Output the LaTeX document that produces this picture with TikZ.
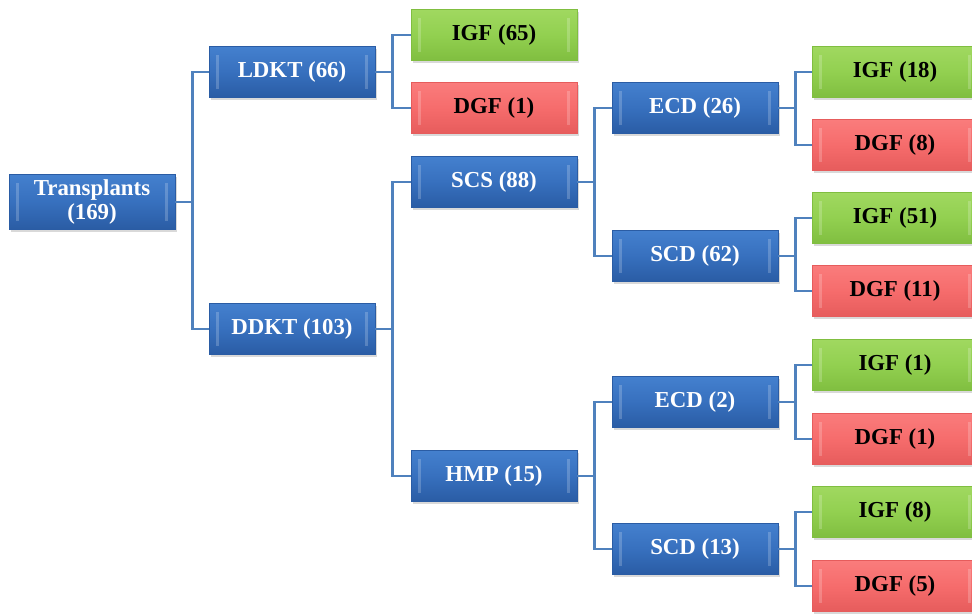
\documentclass[tikz,border=0pt]{standalone}
\usepackage{fontspec}
\setmainfont{Liberation Serif}
\usetikzlibrary{shadows}
\definecolor{boxblue}{RGB}{55,112,190}
\definecolor{boxblueT}{RGB}{68,128,206}
\definecolor{boxblueB}{RGB}{42,92,164}
\definecolor{boxgreen}{RGB}{146,208,80}
\definecolor{boxgreenT}{RGB}{160,216,96}
\definecolor{boxgreenB}{RGB}{128,190,64}
\definecolor{boxred}{RGB}{246,108,108}
\definecolor{boxredT}{RGB}{250,124,124}
\definecolor{boxredB}{RGB}{230,92,92}
\definecolor{linkblue}{RGB}{79,129,189}
\tikzset{
  tbox/.style={rectangle,minimum width=3.32cm,minimum height=1.02cm,inner sep=1pt,
    font=\fontsize{13}{14}\selectfont\bfseries,align=center,
    drop shadow={shadow xshift=1pt,shadow yshift=-1.5pt,opacity=0.3},
    path picture={
      \fill[white,opacity=0.2] ([xshift=4pt,yshift=5pt]path picture bounding box.south west)
        rectangle ([xshift=5.5pt,yshift=-5pt]path picture bounding box.north west);
      \fill[white,opacity=0.2] ([xshift=-5.5pt,yshift=5pt]path picture bounding box.south east)
        rectangle ([xshift=-4pt,yshift=-5pt]path picture bounding box.north east);}},
  bluebox/.style={tbox,draw=boxblueB,top color=boxblueT,bottom color=boxblueB,middle color=boxblue,text=white},
  igfbox/.style={tbox,draw=boxgreenB,top color=boxgreenT,bottom color=boxgreenB,middle color=boxgreen,text=black},
  dgfbox/.style={tbox,draw=boxredB,top color=boxredT,bottom color=boxredB,middle color=boxred,text=black},
  link/.style={draw=linkblue,line width=1.4pt}
}
\begin{document}
\begin{tikzpicture}[x=0.02cm,y=-0.02cm]
  \useasboundingbox (0,0) rectangle (972,613);
  % level 0 and 1
  \node[bluebox,minimum height=1.1cm] (root) at (92,202) {Transplants\\(169)};
  \node[bluebox] (ldkt) at (292,72) {LDKT (66)};
  \node[bluebox] (ddkt) at (292,329) {DDKT (103)};
  % level 2
  \node[igfbox] (igfA) at (494,35) {IGF (65)};
  \node[dgfbox] (dgfA) at (494,108) {DGF (1)};
  \node[bluebox] (scs) at (494,182) {SCS (88)};
  \node[bluebox] (hmp) at (494,476) {HMP (15)};
  % level 3
  \node[bluebox] (ecdA) at (695,108) {ECD (26)};
  \node[bluebox] (scdA) at (695,256) {SCD (62)};
  \node[bluebox] (ecdB) at (695,402) {ECD (2)};
  \node[bluebox] (scdB) at (695,549) {SCD (13)};
  % level 4
  \node[igfbox] (igfB) at (895,72) {IGF (18)};
  \node[dgfbox] (dgfB) at (895,145) {DGF (8)};
  \node[igfbox] (igfC) at (895,218) {IGF (51)};
  \node[dgfbox] (dgfC) at (895,291) {DGF (11)};
  \node[igfbox] (igfD) at (895,365) {IGF (1)};
  \node[dgfbox] (dgfD) at (895,439) {DGF (1)};
  \node[igfbox] (igfE) at (895,512) {IGF (8)};
  \node[dgfbox] (dgfE) at (895,586) {DGF (5)};
  % connectors
  \begin{scope}
  \path[link] (root.east) -- ++(17,0) |- (ldkt.west);
  \path[link] (root.east) -- ++(17,0) |- (ddkt.west);
  \path[link] (ldkt.east) -- ++(17,0) |- (igfA.west);
  \path[link] (ldkt.east) -- ++(17,0) |- (dgfA.west);
  \path[link] (ddkt.east) -- ++(17,0) |- (scs.west);
  \path[link] (ddkt.east) -- ++(17,0) |- (hmp.west);
  \path[link] (scs.east) -- ++(17,0) |- (ecdA.west);
  \path[link] (scs.east) -- ++(17,0) |- (scdA.west);
  \path[link] (hmp.east) -- ++(17,0) |- (ecdB.west);
  \path[link] (hmp.east) -- ++(17,0) |- (scdB.west);
  \path[link] (ecdA.east) -- ++(17,0) |- (igfB.west);
  \path[link] (ecdA.east) -- ++(17,0) |- (dgfB.west);
  \path[link] (scdA.east) -- ++(17,0) |- (igfC.west);
  \path[link] (scdA.east) -- ++(17,0) |- (dgfC.west);
  \path[link] (ecdB.east) -- ++(17,0) |- (igfD.west);
  \path[link] (ecdB.east) -- ++(17,0) |- (dgfD.west);
  \path[link] (scdB.east) -- ++(17,0) |- (igfE.west);
  \path[link] (scdB.east) -- ++(17,0) |- (dgfE.west);
  \end{scope}
\end{tikzpicture}
\end{document}
